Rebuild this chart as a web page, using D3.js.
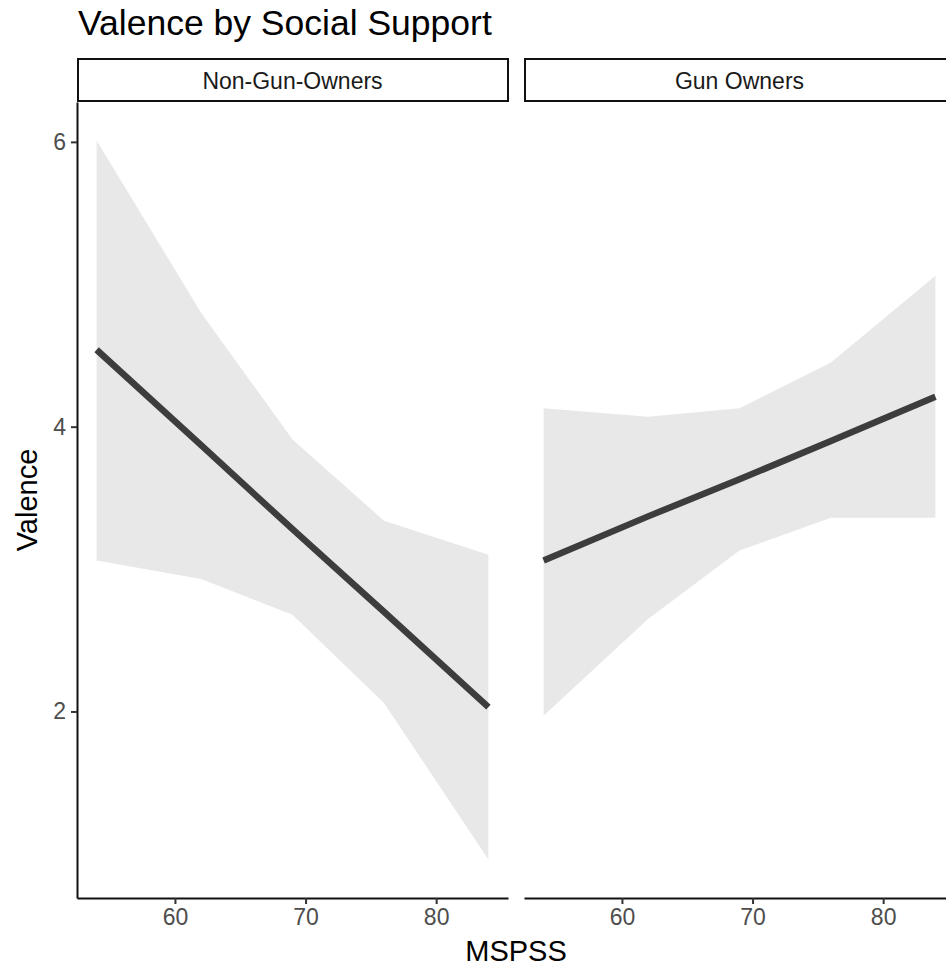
<!DOCTYPE html>
<html>
<head>
<meta charset="utf-8">
<script src="https://cdn.jsdelivr.net/npm/d3@7"></script>
<style>
  html, body { margin: 0; padding: 0; background: #fff; }
  svg { display: block; font-family: "Liberation Sans", Arial, Helvetica, sans-serif; }
</style>
</head>
<body>
<svg id="chart" width="946" height="966"></svg>
<script>
// Predicted valence across social support (MSPSS), with confidence band, per group
const panels = ["Non-Gun-Owners", "Gun Owners"];
const mspss = [54, 62, 69, 76, 84];

const nonOwnerFit   = [4.54, 3.87, 3.28, 2.70, 2.03];
const nonOwnerLower = [3.06, 2.93, 2.68, 2.06, 0.96];
const nonOwnerUpper = [6.01, 4.80, 3.91, 3.34, 3.10];

const ownerFit   = [3.06, 3.37, 3.63, 3.90, 4.21];
const ownerLower = [1.97, 2.65, 3.13, 3.36, 3.36];
const ownerUpper = [4.13, 4.07, 4.13, 4.45, 5.06];

const xTicks = [60, 70, 80];
const yTicks = [2, 4, 6];

const title = "Valence by Social Support";
const xTitle = "MSPSS";
const yTitle = "Valence";

const series = [
  { name: panels[0], fit: nonOwnerFit, lower: nonOwnerLower, upper: nonOwnerUpper },
  { name: panels[1], fit: ownerFit, lower: ownerLower, upper: ownerUpper }
];

const svg = d3.select("#chart");

const panelTop = 102, panelBottom = 898, panelW = 431;
const panelLefts = [77, 524];
const stripTop = 59, stripH = 42;

const x = d3.scaleLinear().domain([52.5, 85.5]).range([0, panelW]);
const y = d3.scaleLinear().domain([0.69, 6.28]).range([panelBottom, panelTop]);

// title
svg.append("text")
  .attr("x", 78).attr("y", 35)
  .attr("font-size", 35.5)
  .attr("fill", "#000")
  .text(title);

series.forEach((s, i) => {
  const g = svg.append("g").attr("transform", `translate(${panelLefts[i]},0)`);
  const rows = mspss.map((m, j) => ({ m, fit: s.fit[j], lo: s.lower[j], hi: s.upper[j] }));

  // confidence band
  g.append("path")
    .datum(rows)
    .attr("fill", "#e8e8e8")
    .attr("d", d3.area().x(d => x(d.m)).y0(d => y(d.lo)).y1(d => y(d.hi)));

  // fitted line
  g.append("path")
    .datum(rows)
    .attr("fill", "none")
    .attr("stroke", "#3d3d3d")
    .attr("stroke-width", 6.5)
    .attr("d", d3.line().x(d => x(d.m)).y(d => y(d.fit)));

  // x axis
  const xa = g.append("g")
    .attr("transform", `translate(0,${panelBottom})`)
    .call(d3.axisBottom(x).tickValues(xTicks).tickSizeInner(6).tickSizeOuter(0)
      .tickPadding(5).tickFormat(d3.format("d")));
  xa.select(".domain").attr("stroke", "#111").attr("stroke-width", 2);
  xa.selectAll(".tick line").attr("stroke", "#333").attr("stroke-width", 2);
  xa.selectAll(".tick text").attr("fill", "#4d4d4d").attr("font-size", 23)
    .attr("font-family", "Liberation Sans, Arial, sans-serif");

  // strip
  g.append("rect")
    .attr("x", 1).attr("y", stripTop)
    .attr("width", panelW - 1).attr("height", stripH)
    .attr("fill", "#fff").attr("stroke", "#111").attr("stroke-width", 2);
  g.append("text")
    .attr("x", panelW / 2).attr("y", stripTop + stripH / 2 + 9)
    .attr("text-anchor", "middle")
    .attr("font-size", 23)
    .attr("fill", "#1a1a1a")
    .text(s.name);

  // y axis on the first panel only
  if (i === 0) {
    const ya = g.append("g")
      .call(d3.axisLeft(y).tickValues(yTicks).tickSizeInner(6).tickSizeOuter(0)
        .tickPadding(5).tickFormat(d3.format("d")));
    ya.select(".domain").attr("stroke", "#111").attr("stroke-width", 2);
    ya.selectAll(".tick line").attr("stroke", "#333").attr("stroke-width", 2);
    ya.selectAll(".tick text").attr("fill", "#4d4d4d").attr("font-size", 23)
      .attr("font-family", "Liberation Sans, Arial, sans-serif");
  }
});

// axis titles
svg.append("text")
  .attr("x", (panelLefts[0] + panelLefts[1] + panelW) / 2)
  .attr("y", 961)
  .attr("text-anchor", "middle")
  .attr("font-size", 29)
  .attr("fill", "#000")
  .text(xTitle);

svg.append("text")
  .attr("transform", `translate(37,${(panelTop + panelBottom) / 2}) rotate(-90)`)
  .attr("text-anchor", "middle")
  .attr("font-size", 29)
  .attr("fill", "#000")
  .text(yTitle);
</script>
</body>
</html>
